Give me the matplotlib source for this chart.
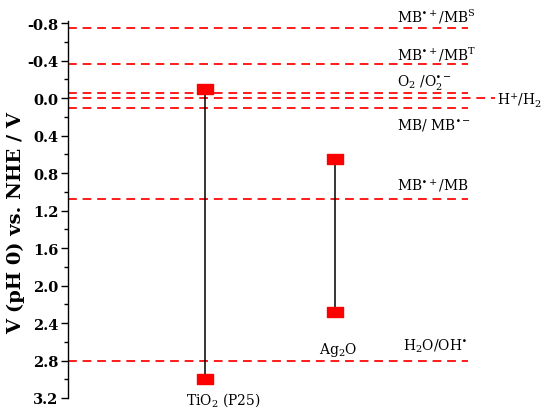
import matplotlib
matplotlib.use("Agg")
import matplotlib.pyplot as plt
from matplotlib.path import Path
from matplotlib.ticker import MultipleLocator

plt.rcParams['font.family'] = ['DejaVu Serif']
plt.rcParams['mathtext.fontset'] = 'dejavuserif'
plt.rcParams['axes.unicode_minus'] = False

# redox couples (V vs NHE, pH 0)
couples = [r'MB$^{\bullet+}$/MB$^{\mathrm{S}}$', r'MB$^{\bullet+}$/MB$^{\mathrm{T}}$',
           r'O$_2$ /O$_2^{\bullet-}$', r'H$^{+}$/H$_2$', r'MB/ MB$^{\bullet-}$',
           r'MB$^{\bullet+}$/MB', r'H$_2$O/OH$^{\bullet}$']
potentials = [-0.75, -0.36, -0.05, 0.0, 0.11, 1.08, 2.80]

# semiconductors: band edges
semis = ['TiO$_2$ (P25)', 'Ag$_2$O']
semi_x = [1, 2]
cb = [-0.10, 0.65]
vb = [3.00, 2.28]

fig = plt.figure(figsize=(5.5, 4.14), dpi=100)
ax = fig.add_axes([68/550, 1-399/414, 400/550, (399-22.3)/414])

ax.set_xlim(-0.054, 3.023)
ax.set_ylim(3.2, -0.82)

# dashed redox lines
for name, v in zip(couples, potentials):
    xend = 3.23 if name.startswith('H$^') else 3.023
    ax.plot([-0.054, xend], [v, v], color='#ff1a1a', lw=1.4,
            dashes=(4.5, 3.0), clip_on=False, zorder=1)

# label positions (x data, pixel offset)
lab_x = [2.477, 2.477, 2.477, 3.245, 2.477, 2.477, 2.52]
lab_dy = [12, 11, 12, 0, -16, 15, 15]
for name, v, lx, dy in zip(couples, potentials, lab_x, lab_dy):
    ax.annotate(name, (lx, v), xytext=(0, dy*0.72), textcoords='offset points',
                ha='left', va='center', fontsize=10, annotation_clip=False)

rect = Path([(-1, -0.6), (1, -0.6), (1, 0.6), (-1, 0.6), (-1, -0.6)],
            [Path.MOVETO, Path.LINETO, Path.LINETO, Path.LINETO, Path.CLOSEPOLY])
for x, c, v in zip(semi_x, cb, vb):
    ax.plot([x, x], [c, v], color='black', lw=1.1, zorder=2)
    ax.plot([x, x], [c, v], ls='none', marker=rect, ms=11, color='red',
            mec='red', zorder=3, clip_on=False)

ax.annotate(semis[0], (semi_x[0], vb[0]), xytext=(13, -20*0.72),
            textcoords='offset points', ha='center', va='center', fontsize=10,
            annotation_clip=False)
ax.annotate(semis[1], (semi_x[1], potentials[-1]), xytext=(2, 12*0.72),
            textcoords='offset points', ha='center', va='center', fontsize=10)

ax.spines['top'].set_visible(False)
ax.spines['right'].set_visible(False)
ax.spines['bottom'].set_visible(False)
ax.spines['left'].set_linewidth(1.0)
ax.set_xticks([])
ax.yaxis.set_minor_locator(MultipleLocator(0.2))
ax.set_yticks([-0.8, -0.4, 0.0, 0.4, 0.8, 1.2, 1.6, 2.0, 2.4, 2.8, 3.2])
ax.tick_params(axis='y', which='major', length=5, width=1, direction='out', pad=2)
ax.tick_params(axis='y', which='minor', length=3, width=1, direction='out')
for t in ax.get_yticklabels():
    t.set_fontweight('bold')
    t.set_fontsize(10.5)

fig.text(16/550, 1-223/414, 'V (pH 0) vs. NHE / V', rotation=90, fontsize=14,
         fontweight='bold', ha='center', va='center')

fig.savefig('out.png', dpi=100)
